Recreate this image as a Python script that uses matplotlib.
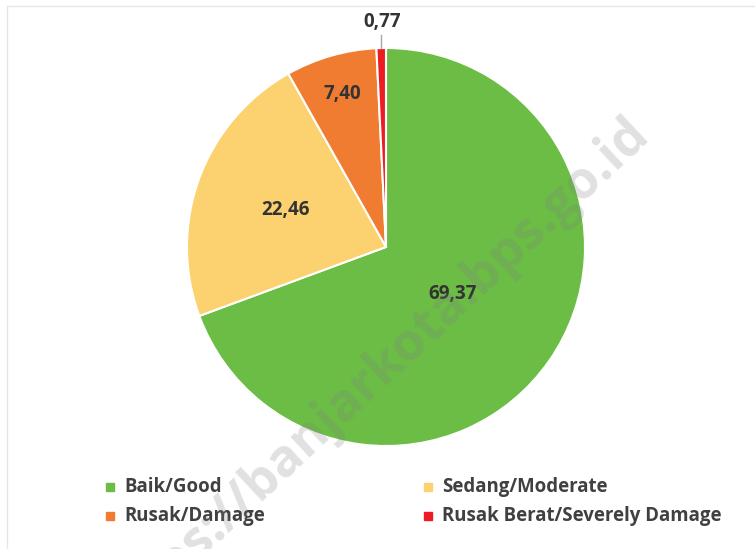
import matplotlib
matplotlib.use("Agg")
import matplotlib.pyplot as plt
import numpy as np
from matplotlib.patches import Rectangle

categories = ["Baik/Good", "Sedang/Moderate", "Rusak/Damage", "Rusak Berat/Severely Damage"]
values = [69.37, 22.46, 7.40, 0.77]
labels = ["69,37", "22,46", "7,40", "0,77"]
colors = ["#6BBD45", "#FCD16F", "#F07C31", "#ED1C24"]

W, H = 755, 549
FONT = ["Open Sans", "DejaVu Sans"]
fig = plt.figure(figsize=(W / 100, H / 100), dpi=100)
ax = fig.add_axes([0, 0, 1, 1])

cx, cy, R = 386, H - 247, 199
wedges, _ = ax.pie(values, colors=colors, startangle=90, counterclock=False,
                   center=(cx, cy), radius=R, frame=True,
                   wedgeprops=dict(edgecolor="white", linewidth=1.5))
ax.set_xlim(0, W)
ax.set_ylim(0, H)
ax.set_aspect("equal")
ax.axis("off")

# frame
ax.add_patch(Rectangle((7, -20), 780, H - 6 + 20, fill=False, edgecolor="#E6E6E6", linewidth=1))

label_r = [0.41, 0.54, 0.80]
for w, lab, r in zip(wedges[:3], labels[:3], label_r):
    ang = np.deg2rad((w.theta1 + w.theta2) / 2)
    ax.text(cx + r * R * np.cos(ang), cy + r * R * np.sin(ang), lab,
            ha="center", va="center", fontsize=13.5, fontweight="bold",
            family=FONT, color="#333333")

# small slice label with leader line
w = wedges[3]
ang = np.deg2rad((w.theta1 + w.theta2) / 2)
ax.plot([cx + R * np.cos(ang), cx + R * np.cos(ang)],
        [cy + R * np.sin(ang), cy + R * np.sin(ang) + 13], color="#A6A6A6", lw=1)
ax.text(cx + R * np.cos(ang) + 1, cy + R * np.sin(ang) + 26, labels[3],
        ha="center", va="center", fontsize=13.5, fontweight="bold",
        family=FONT, color="#333333")

# legend
pos = [(110, 487), (428, 487), (110, 516), (428, 516)]
for (x, y), cat, col in zip(pos, categories, colors):
    ax.add_patch(Rectangle((x - 4, H - y - 4), 8, 8, color=col))
    ax.text(x + 14, H - y, cat, ha="left", va="center", fontsize=13.4,
            fontweight="bold", family=FONT, color="#404040")

# watermark
ax.text(374, H - 375, "https://banjarkota.bps.go.id", rotation=43,
        rotation_mode="anchor", ha="center", va="center", fontsize=37.5,
        fontweight="bold", family=FONT, color="#808080", alpha=0.24, clip_on=True)

fig.savefig("out.png", dpi=100)
